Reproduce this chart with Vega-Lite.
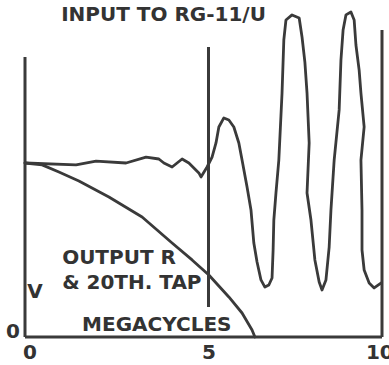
{
  "$schema": "https://vega.github.io/schema/vega-lite/v6.json",
  "width": 357,
  "height": 332,
  "autosize": {"type": "none"},
  "padding": {"left": 25, "top": 5, "right": 7, "bottom": 28},
  "background": "white",
  "config": {"view": {"stroke": null}},
  "datasets": {
    "curves": [
      {"series": "input", "i": 0, "mc": 0, "v": 1.0},
      {"series": "input", "i": 1, "mc": 1.43, "v": 0.989},
      {"series": "input", "i": 2, "mc": 1.99, "v": 1.011},
      {"series": "input", "i": 3, "mc": 2.83, "v": 1.0},
      {"series": "input", "i": 4, "mc": 3.39, "v": 1.034},
      {"series": "input", "i": 5, "mc": 3.75, "v": 1.023},
      {"series": "input", "i": 6, "mc": 3.89, "v": 1.0},
      {"series": "input", "i": 7, "mc": 4.12, "v": 0.977},
      {"series": "input", "i": 8, "mc": 4.40, "v": 1.023},
      {"series": "input", "i": 9, "mc": 4.59, "v": 1.0},
      {"series": "input", "i": 10, "mc": 4.87, "v": 0.943},
      {"series": "input", "i": 11, "mc": 4.93, "v": 0.920},
      {"series": "input", "i": 12, "mc": 5.10, "v": 0.977},
      {"series": "input", "i": 13, "mc": 5.24, "v": 1.034},
      {"series": "input", "i": 14, "mc": 5.35, "v": 1.115},
      {"series": "input", "i": 15, "mc": 5.43, "v": 1.207},
      {"series": "input", "i": 16, "mc": 5.57, "v": 1.259},
      {"series": "input", "i": 17, "mc": 5.71, "v": 1.247},
      {"series": "input", "i": 18, "mc": 5.85, "v": 1.207},
      {"series": "input", "i": 19, "mc": 5.99, "v": 1.115},
      {"series": "input", "i": 20, "mc": 6.08, "v": 1.017},
      {"series": "input", "i": 21, "mc": 6.22, "v": 0.862},
      {"series": "input", "i": 22, "mc": 6.33, "v": 0.730},
      {"series": "input", "i": 23, "mc": 6.41, "v": 0.540},
      {"series": "input", "i": 24, "mc": 6.50, "v": 0.431},
      {"series": "input", "i": 25, "mc": 6.61, "v": 0.328},
      {"series": "input", "i": 26, "mc": 6.72, "v": 0.287},
      {"series": "input", "i": 27, "mc": 6.83, "v": 0.299},
      {"series": "input", "i": 28, "mc": 6.92, "v": 0.339},
      {"series": "input", "i": 29, "mc": 6.95, "v": 0.5},
      {"series": "input", "i": 30, "mc": 6.97, "v": 0.672},
      {"series": "input", "i": 31, "mc": 7.03, "v": 0.828},
      {"series": "input", "i": 32, "mc": 7.11, "v": 1.017},
      {"series": "input", "i": 33, "mc": 7.20, "v": 1.402},
      {"series": "input", "i": 34, "mc": 7.25, "v": 1.707},
      {"series": "input", "i": 35, "mc": 7.31, "v": 1.822},
      {"series": "input", "i": 36, "mc": 7.48, "v": 1.851},
      {"series": "input", "i": 37, "mc": 7.68, "v": 1.833},
      {"series": "input", "i": 38, "mc": 7.76, "v": 1.724},
      {"series": "input", "i": 39, "mc": 7.84, "v": 1.580},
      {"series": "input", "i": 40, "mc": 7.90, "v": 1.402},
      {"series": "input", "i": 41, "mc": 7.96, "v": 1.115},
      {"series": "input", "i": 42, "mc": 7.90, "v": 0.828},
      {"series": "input", "i": 43, "mc": 8.01, "v": 0.672},
      {"series": "input", "i": 44, "mc": 8.12, "v": 0.443},
      {"series": "input", "i": 45, "mc": 8.24, "v": 0.316},
      {"series": "input", "i": 46, "mc": 8.32, "v": 0.270},
      {"series": "input", "i": 47, "mc": 8.43, "v": 0.328},
      {"series": "input", "i": 48, "mc": 8.52, "v": 0.517},
      {"series": "input", "i": 49, "mc": 8.57, "v": 0.730},
      {"series": "input", "i": 50, "mc": 8.66, "v": 1.017},
      {"series": "input", "i": 51, "mc": 8.80, "v": 1.305},
      {"series": "input", "i": 52, "mc": 8.85, "v": 1.592},
      {"series": "input", "i": 53, "mc": 8.91, "v": 1.764},
      {"series": "input", "i": 54, "mc": 8.99, "v": 1.851},
      {"series": "input", "i": 55, "mc": 9.13, "v": 1.868},
      {"series": "input", "i": 56, "mc": 9.22, "v": 1.822},
      {"series": "input", "i": 57, "mc": 9.27, "v": 1.678},
      {"series": "input", "i": 58, "mc": 9.36, "v": 1.534},
      {"series": "input", "i": 59, "mc": 9.41, "v": 1.402},
      {"series": "input", "i": 60, "mc": 9.50, "v": 1.207},
      {"series": "input", "i": 61, "mc": 9.41, "v": 1.017},
      {"series": "input", "i": 62, "mc": 9.44, "v": 0.730},
      {"series": "input", "i": 63, "mc": 9.44, "v": 0.5},
      {"series": "input", "i": 64, "mc": 9.50, "v": 0.385},
      {"series": "input", "i": 65, "mc": 9.64, "v": 0.310},
      {"series": "input", "i": 66, "mc": 9.78, "v": 0.282},
      {"series": "input", "i": 67, "mc": 9.97, "v": 0.310},
      {"series": "output", "i": 0, "mc": 0, "v": 1.0},
      {"series": "output", "i": 1, "mc": 0.48, "v": 0.989},
      {"series": "output", "i": 2, "mc": 0.95, "v": 0.948},
      {"series": "output", "i": 3, "mc": 1.51, "v": 0.897},
      {"series": "output", "i": 4, "mc": 2.35, "v": 0.805},
      {"series": "output", "i": 5, "mc": 3.28, "v": 0.690},
      {"series": "output", "i": 6, "mc": 4.12, "v": 0.540},
      {"series": "output", "i": 7, "mc": 4.68, "v": 0.443},
      {"series": "output", "i": 8, "mc": 5.15, "v": 0.356},
      {"series": "output", "i": 9, "mc": 5.71, "v": 0.230},
      {"series": "output", "i": 10, "mc": 6.08, "v": 0.138},
      {"series": "output", "i": 11, "mc": 6.36, "v": 0.040},
      {"series": "output", "i": 12, "mc": 6.44, "v": 0}
    ],
    "frame": [
      {"x1": 0, "x2": 0, "y1": 0, "y2": 1.609},
      {"x1": 0, "x2": 10, "y1": 0, "y2": 0},
      {"x1": 10, "x2": 10, "y1": 0, "y2": 1.764},
      {"x1": 5.14, "x2": 5.14, "y1": 0.172, "y2": 1.667}
    ],
    "centered": [
      {"text": "INPUT TO RG-11/U", "x": 3.88, "y": 1.851},
      {"text": "V", "x": 0.28, "y": 0.259},
      {"text": "0", "x": -0.34, "y": 0.029},
      {"text": "0", "x": 0.14, "y": -0.092},
      {"text": "5", "x": 5.15, "y": -0.092},
      {"text": "10", "x": 9.94, "y": -0.092}
    ],
    "left": [
      {"text": "OUTPUT R", "x": 1.04, "y": 0.454},
      {"text": "& 20TH. TAP", "x": 1.04, "y": 0.310},
      {"text": "MEGACYCLES", "x": 1.60, "y": 0.069}
    ]
  },
  "layer": [
    {
      "data": {"name": "frame"},
      "mark": {"type": "rule", "strokeWidth": 3, "color": "#3a3a3a"},
      "encoding": {
        "x": {"field": "x1", "type": "quantitative", "scale": {"domain": [0, 10], "nice": false, "zero": false}, "axis": null},
        "x2": {"field": "x2"},
        "y": {"field": "y1", "type": "quantitative", "scale": {"domain": [0, 1.908], "nice": false, "zero": false}, "axis": null},
        "y2": {"field": "y2"}
      }
    },
    {
      "data": {"name": "curves"},
      "mark": {"type": "line", "strokeWidth": 2.8, "color": "#3a3a3a", "strokeJoin": "round", "strokeCap": "round", "interpolate": "linear"},
      "encoding": {
        "x": {"field": "mc", "type": "quantitative"},
        "y": {"field": "v", "type": "quantitative"},
        "detail": {"field": "series"},
        "order": {"field": "i", "type": "quantitative"}
      }
    },
    {
      "data": {"name": "centered"},
      "mark": {"type": "text", "font": "DejaVu Sans", "fontWeight": "bold", "fontSize": 20, "color": "#333333", "align": "center", "baseline": "middle"},
      "encoding": {
        "x": {"field": "x", "type": "quantitative"},
        "y": {"field": "y", "type": "quantitative"},
        "text": {"field": "text"}
      }
    },
    {
      "data": {"name": "left"},
      "mark": {"type": "text", "font": "DejaVu Sans", "fontWeight": "bold", "fontSize": 20, "color": "#333333", "align": "left", "baseline": "middle"},
      "encoding": {
        "x": {"field": "x", "type": "quantitative"},
        "y": {"field": "y", "type": "quantitative"},
        "text": {"field": "text"}
      }
    }
  ]
}
